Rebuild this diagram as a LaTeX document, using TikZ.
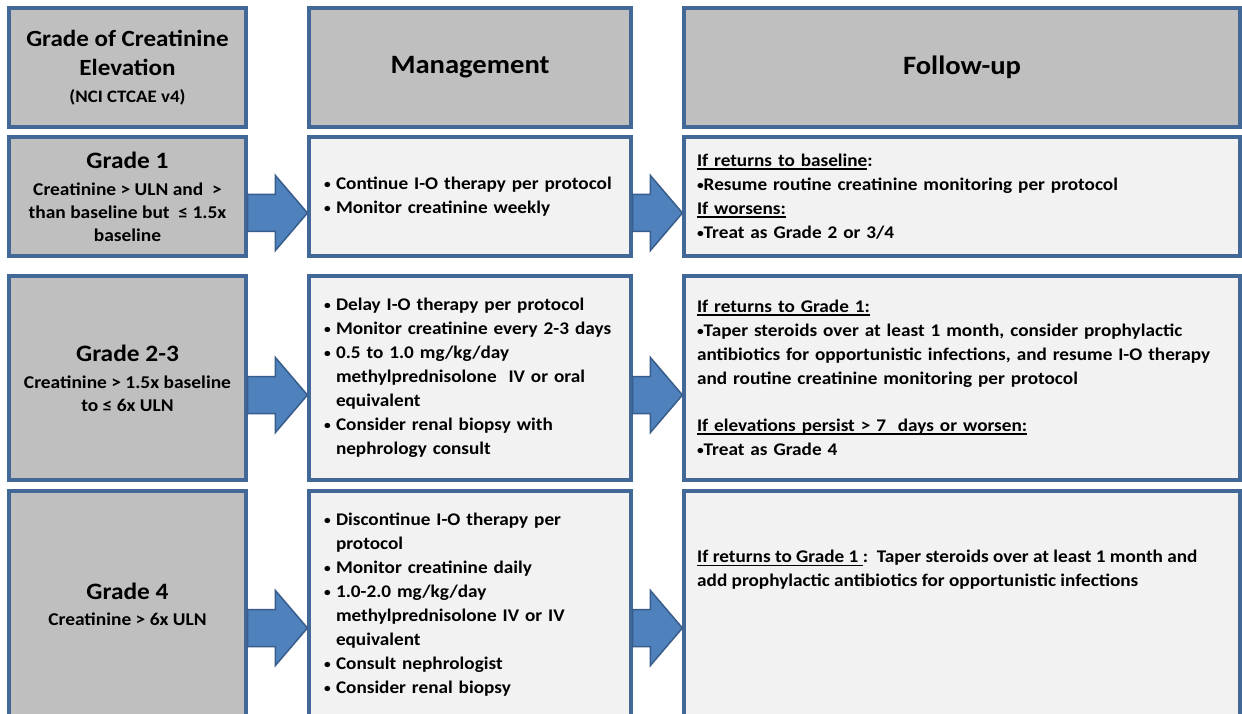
\documentclass[tikz,border=0pt]{standalone}
\usepackage{fontspec}
\setmainfont{Carlito}[FakeStretch=1.08]
\usetikzlibrary{positioning}
\usetikzlibrary{calc}
\definecolor{boxline}{RGB}{66,104,152}
\definecolor{boxgray}{RGB}{191,191,191}
\definecolor{boxlight}{RGB}{242,242,242}
\definecolor{arrowblue}{RGB}{79,129,189}
\definecolor{arrowline}{RGB}{56,93,138}
\tikzset{
    hdr/.style = {rectangle, draw=boxline, line width=3.2pt, fill=boxgray, align=center, font=\bfseries\fontsize{26.5}{29}\selectfont},
    grade/.style = {rectangle, draw=boxline, line width=3.2pt, fill=boxgray, minimum width=237, align=center, font=\bfseries\fontsize{18}{23}\selectfont},
    mgmt/.style = {rectangle, draw=boxline, line width=3.2pt, fill=boxlight, text width=292pt, inner xsep=15pt, align=left, font=\bfseries\fontsize{17.8}{24}\selectfont},
    follow/.style = {rectangle, draw=boxline, line width=3.2pt, fill=boxlight, text width=530pt, inner xsep=13pt, align=left, font=\bfseries\fontsize{17.8}{24}\selectfont},
    plain/.style = {inner sep=0pt, align=left, font=\bfseries\fontsize{17.8}{24}\selectfont},
    bluearrow/.style = {fill=arrowblue, draw=arrowline, line width=1.5pt, line join=miter}
}
\newcommand{\ulin}[1]{\leavevmode\setbox0=\hbox{#1}\rlap{\rule[-3.5pt]{\wd0}{1.8pt}}\box0}
\newcommand{\smallbul}{\raisebox{0.8pt}{\scalebox{0.7}{•}}}
\newcommand{\bul}{\makebox[12pt][l]{\smallbul}}
\newcommand{\ind}{\hspace*{12pt}}
\newcommand{\gtitle}[1]{{\fontsize{23.5}{26}\selectfont #1}}
\newcommand{\blockarrow}[3]{%
  \draw[bluearrow] ($(#1.east |- 0,#3)+(0,-18.5)$) -- ($(#2.west |- 0,#3)+(-32,-18.5)$)
    -- ($(#2.west |- 0,#3)+(-32,-37.5)$) -- (#2.west |- 0,#3) -- ($(#2.west |- 0,#3)+(-32,37.5)$)
    -- ($(#2.west |- 0,#3)+(-32,18.5)$) -- ($(#1.east |- 0,#3)+(0,18.5)$) -- cycle;}

\begin{document}
\begin{tikzpicture}[x=1pt,y=-1pt]
\useasboundingbox[fill=white] (0,0) rectangle (1242,714);

% headers
\node[hdr, minimum width=237, minimum height=119, font=\bfseries\fontsize{23.2}{29}\selectfont] at (127.5,67.5) (h1) {Grade of Creatinine\\Elevation\\[-2pt]{\fontsize{17.5}{18}\selectfont (NCI CTCAE v4)}};
\node[hdr, minimum width=322, minimum height=119] at (470,67.5) (h2) {Management};
\node[hdr, minimum width=556, minimum height=119] at (962,67.5) (h3) {Follow-up};

% grade 1
\node[grade, minimum height=119] at (127.5,196.5) (g1) {\gtitle{Grade 1}\\[4pt]Creatinine > ULN and\ \ >\\than baseline but\ \ ≤ 1.5x\\baseline};
\node[mgmt, minimum height=119] at (470,196.5) (m1) {\bul Continue I-O therapy per protocol\\\bul Monitor creatinine weekly};
\node[follow, minimum height=119] at (962,196.5) (f1) {\ulin{If returns to baseline}:\\\smallbul Resume routine creatinine monitoring per protocol\\\ulin{If worsens:}\\\smallbul Treat as Grade 2 or 3/4};

% grade 2-3
\node[grade, minimum height=204] at (127.5,378) (g2) {\gtitle{Grade 2-3}\\[4pt]Creatinine > 1.5x baseline\\to ≤ 6x ULN};
\node[mgmt, minimum height=204] at (470,378) (m2) {\bul Delay I-O therapy per protocol\\\bul Monitor creatinine every 2-3 days\\\bul 0.5 to 1.0 mg/kg/day\\\ind methylprednisolone\ \ IV or oral\\\ind equivalent\\\bul Consider renal biopsy with\\\ind nephrology consult};
\node[follow, minimum height=204] at (962,378) (f2) {\ulin{If returns to Grade 1:}\\\smallbul Taper steroids over at least 1 month, consider prophylactic\\antibiotics for opportunistic infections, and resume I-O therapy\\and routine creatinine monitoring per protocol\\[23pt]\ulin{If elevations persist > 7\ \ days or worsen:}\\\smallbul Treat as Grade 4};

% grade 4
\node[grade, minimum height=227] at (127.5,604.5) (g3) {\gtitle{Grade 4}\\[3pt]Creatinine > 6x ULN};
\node[mgmt, minimum height=227] at (470,604.5) (m3) {\bul Discontinue I-O therapy per\\\ind protocol\\\bul Monitor creatinine daily\\\bul 1.0-2.0 mg/kg/day\\\ind methylprednisolone IV or IV\\\ind equivalent\\\bul Consult nephrologist\\\bul Consider renal biopsy};
\node[follow, minimum height=227] at (962,604.5) (f3) {};
\node[plain, anchor=west] at (697,570) (f3t) {\ulin{If returns to Grade 1 }:\ \ Taper steroids over at least 1 month and\\add prophylactic antibiotics for opportunistic infections};

% arrows
\blockarrow{g1}{m1}{213}
\blockarrow{m1}{f1}{213}
\blockarrow{g2}{m2}{395}
\blockarrow{m2}{f2}{395}
\blockarrow{g3}{m3}{628}
\blockarrow{m3}{f3}{628}

\end{tikzpicture}
\end{document}
